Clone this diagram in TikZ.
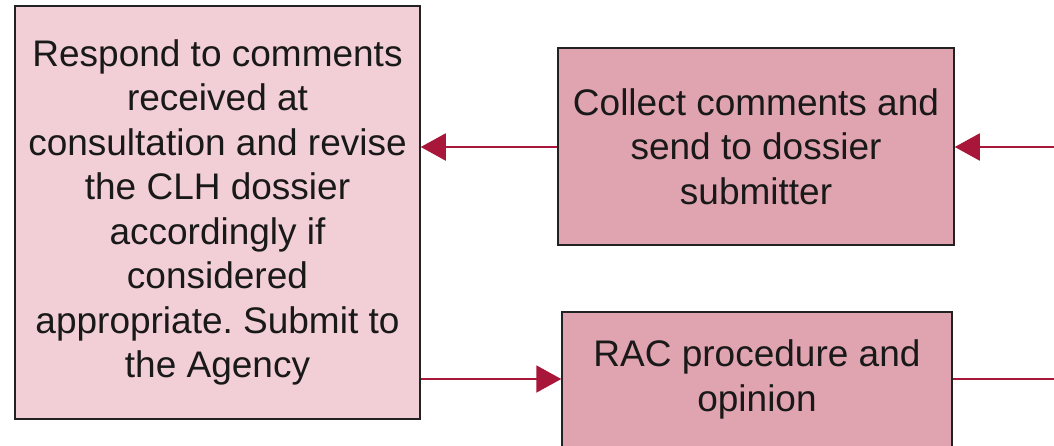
\documentclass[tikz,border=0pt]{standalone}
\usepackage{fontspec}
\setmainfont{Liberation Sans}
\frenchspacing
\usetikzlibrary{arrows.meta}
\definecolor{lightpink}{HTML}{F2CFD7}
\definecolor{midpink}{HTML}{E0A3B0}
\definecolor{arrred}{HTML}{A8163A}
\definecolor{boxline}{HTML}{222222}
\tikzset{
  box/.style={draw=boxline, line width=1.5pt, align=center, inner sep=0pt,
    font=\fontsize{37}{44.5}\selectfont, text=black!90},
  arr/.style={draw=arrred, line width=2pt, -{Triangle[length=25pt,width=27pt]}},
  plain/.style={draw=arrred, line width=2pt}
}
\begin{document}
\begin{tikzpicture}[x=1pt,y=-1pt]
\clip (0,0) rectangle (1054,445);
\fill[white] (0,0) rectangle (1054,445);
\node[box, fill=lightpink, minimum width=405pt, minimum height=413pt] (L) at (217.5,212.5)
  {Respond to comments\\received at\\consultation and revise\\the CLH dossier\\accordingly if\\considered\\appropriate. Submit to\\the Agency};
\node[box, fill=midpink, minimum width=396pt, minimum height=197pt] (T) at (756,146.5)
  {Collect comments and\\send to dossier\\submitter};
\node[box, fill=midpink, minimum width=390pt, minimum height=135pt] (B) at (757,379.5)
  {RAC procedure and\\opinion};
\coordinate (R1) at (1060,147);
\coordinate (R2) at (1060,379);
\draw[arr] (R1) -- (R1 -| T.east);
\draw[arr] (T.west |- R1) -- (L.east |- R1);
\draw[arr] (L.east |- R2) -- (B.west |- R2);
\draw[plain] (B.east |- R2) -- (R2);
\end{tikzpicture}
\end{document}
